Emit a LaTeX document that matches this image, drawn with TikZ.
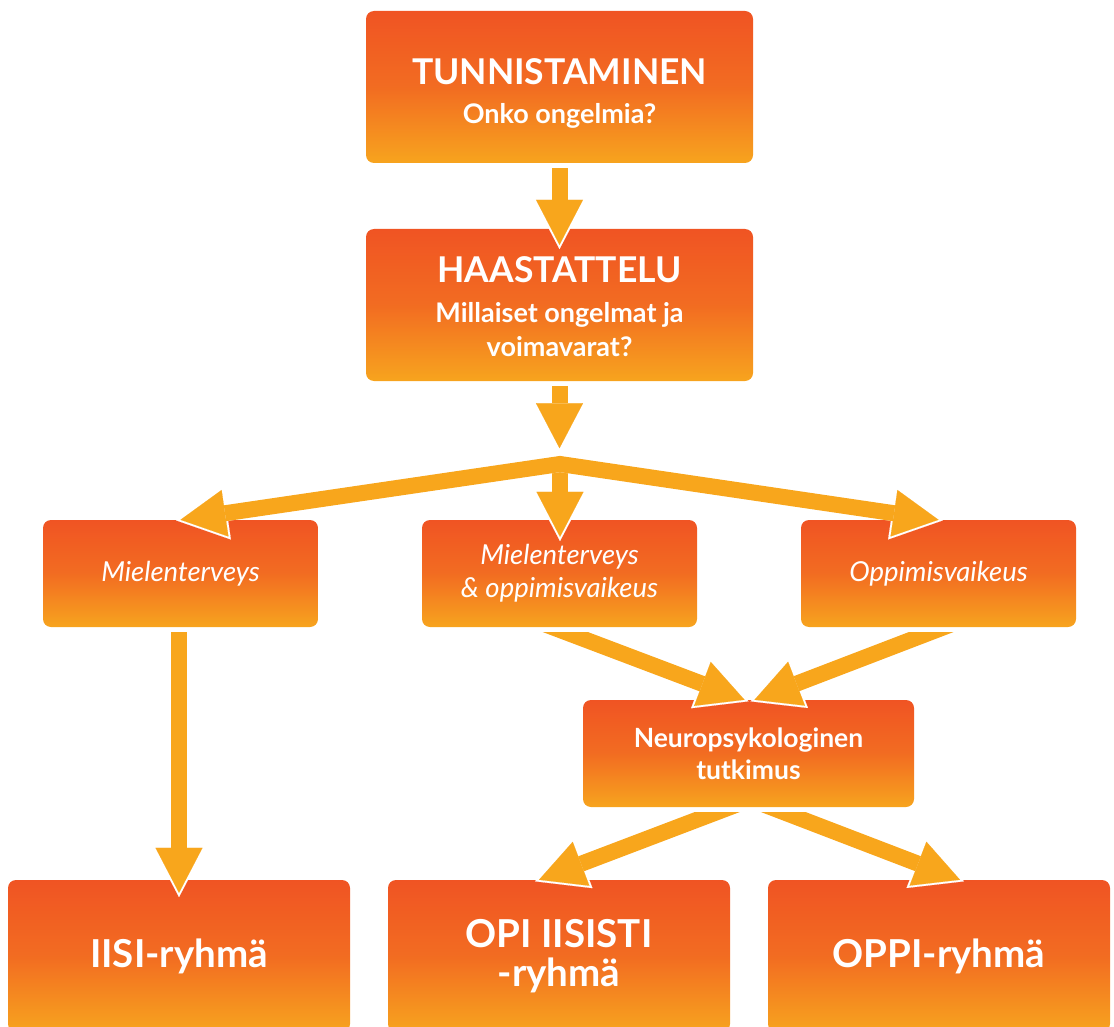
\documentclass[tikz,border=0pt]{standalone}
\usepackage{fontspec}
\setmainfont{Lato}
\usetikzlibrary{arrows.meta, positioning, calc}
\definecolor{boxtop}{RGB}{240, 84, 35}
\definecolor{boxbot}{RGB}{247, 164, 30}
\definecolor{arroworange}{RGB}{248, 166, 28}

\tikzset{
  stepbox/.style={rounded corners=8pt, top color=boxtop, bottom color=boxbot, middle color=boxtop!70!boxbot,
    text=white, align=center, inner sep=0pt},
  flow/.style={draw=arroworange, line width=16pt, -{Triangle[width=47pt, length=45pt, line width=0.1pt]},
    preaction={draw=white, line width=16pt, shorten >=-4.3pt, -{Triangle[width=53.6pt, length=51.3pt, line width=0.1pt]}}},
  flowtwo/.style={draw=arroworange, line width=16pt, {Triangle[width=47pt, length=45pt, line width=0.1pt]}-{Triangle[width=47pt, length=45pt, line width=0.1pt]},
    preaction={draw=white, line width=16pt, shorten >=-4.3pt, shorten <=-4.3pt,
      {Triangle[width=53.6pt, length=51.3pt, line width=0.1pt]}-{Triangle[width=53.6pt, length=51.3pt, line width=0.1pt]}}}
}

\begin{document}
\begin{tikzpicture}[x=1pt, y=-1pt]
  \useasboundingbox (0,0) rectangle (1114,1027);

  % Top boxes
  \node[stepbox, minimum width=387pt, minimum height=152pt, font=\fontsize{27}{38}\selectfont\bfseries] (tunn) at (559.5, 87)
    {\rule{0pt}{38pt}{\fontsize{35.5}{40}\selectfont TUNNISTAMINEN}\\[1pt]Onko ongelmia?};
  \node[stepbox, minimum width=387pt, minimum height=152pt, font=\fontsize{27}{34}\selectfont\bfseries] (haast) at (559.5, 305)
    {\rule{0pt}{30pt}{\fontsize{35.5}{40}\selectfont HAASTATTELU}\\[6pt]Millaiset ongelmat ja\\voimavarat?};

  % Second row
  \node[stepbox, minimum width=275pt, minimum height=107pt, font=\fontsize{27.5}{33}\selectfont\itshape] (miel) at (180.5, 573.5) {Mielenterveys};
  \node[stepbox, minimum width=275pt, minimum height=107pt, font=\fontsize{27.5}{33}\selectfont\itshape] (both) at (559.5, 573.5) {Mielenterveys\\\& oppimisvaikeus};
  \node[stepbox, minimum width=275pt, minimum height=107pt, font=\fontsize{27.5}{33}\selectfont\itshape] (oppi) at (938.5, 573.5) {Oppimisvaikeus};

  % Neuropsychology
  \node[stepbox, minimum width=331pt, minimum height=107pt, font=\fontsize{26.5}{32}\selectfont\bfseries] (neuro) at (748.5, 753.5) {Neuropsykologinen\\tutkimus};

  % Groups
  \node[stepbox, minimum width=342pt, minimum height=152pt, font=\fontsize{38.5}{39}\selectfont\bfseries] (iisi) at (179, 956) {IISI-ryhmä};
  \node[stepbox, minimum width=342pt, minimum height=152pt, font=\fontsize{38.5}{39}\selectfont\bfseries] (opi) at (559, 956) {OPI IISISTI\\-ryhmä};
  \node[stepbox, minimum width=342pt, minimum height=152pt, font=\fontsize{38.5}{39}\selectfont\bfseries] (oppir) at (939, 956) {OPPI-ryhmä};

  % Arrows
  \coordinate (fork) at (560, 464);
  \draw[flow] ([yshift=-5pt]tunn.south) -- ([yshift=-16pt]haast.north);
  \draw[flow] ([yshift=-5pt]haast.south) -- ($(haast.south)+(0,67)$);
  \draw[flow] (fork) -- ($(both.north)+(0.5,17)$);
  \draw[flowtwo] (miel.north) -- (fork) -- (oppi.north);
  \draw[flow] ($(miel.south)+(-1.5,5)$) -- ($(iisi.north)+(0,13)$);

  \begin{scope}
    \clip (0,632) rectangle (1114,1027);
    \draw[flow] ($(both.south)+(-46.6,-15)$) -- ($(neuro.north)+(-4,0)$);
    \draw[flow] ($(oppi.south)+(44.4,-15)$) -- ($(neuro.north)+(6,0)$);
  \end{scope}
  \begin{scope}
    \clip (0,812) rectangle (1114,1027);
    \draw[flow] ($(neuro.south)+(20.9,-15)$) -- ($(opi.north)+(-20,0)$);
    \draw[flow] ($(neuro.south)+(-16.9,-15)$) -- ($(oppir.north)+(21,0)$);
  \end{scope}
\end{tikzpicture}
\end{document}
